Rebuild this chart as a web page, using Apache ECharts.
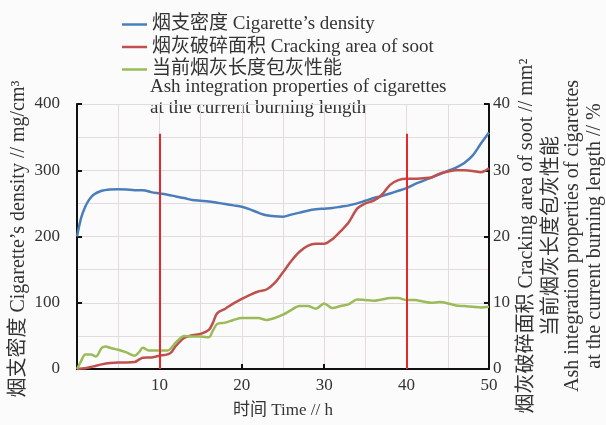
<!DOCTYPE html>
<html>
<head>
<meta charset="utf-8">
<script src="https://cdn.jsdelivr.net/npm/echarts@6/dist/echarts.min.js"></script>
<style>
  html, body { margin: 0; padding: 0; background: #fbfbfb; }
  #chart { width: 606px; height: 425px; }
</style>
</head>
<body>
<div id="chart"></div>
<script>
// Burning time (h) vs. value pairs for each measured curve
const densityData = [
  [0, 200], [0.5, 228], [1, 245], [1.5, 256], [2, 263], [3, 269], [4, 271], [5, 271.5],
  [6, 271], [7, 270], [8, 270], [9, 267], [10, 265], [11, 263], [12, 260.5], [13, 258],
  [14, 255], [15, 254], [16, 253], [17, 251], [18, 249], [19, 247], [20, 245], [21, 241],
  [22, 236], [23, 232], [24, 230.5], [25, 230], [26, 233], [27, 236], [28, 239], [29, 241],
  [30, 242], [31, 243], [32, 245], [33, 247], [34, 250], [35, 254], [36, 258], [37, 261],
  [38, 265], [39, 269], [40, 273], [41, 279], [42, 284], [43, 289], [44, 294], [45, 299],
  [46, 304], [47, 311], [48, 322], [49, 340], [50, 357]
];
const sootAreaData = [
  [0, 0], [1, 0.1], [2, 0.4], [3, 0.7], [4, 0.9], [5, 1.0], [6, 1.0], [7, 1.05], [7.5, 1.4],
  [8, 1.7], [9, 1.75], [10, 2.0], [11, 2.2], [11.5, 2.6], [12, 3.5], [13, 4.7], [14, 5.1],
  [15, 5.3], [16, 5.9], [16.5, 7], [17, 8.4], [18, 9.1], [19, 9.9], [20, 10.6], [21, 11.2],
  [22, 11.7], [23, 12], [24, 13], [25, 14.6], [26, 16.3], [27, 17.7], [28, 18.6], [29, 18.9],
  [30, 18.9], [31, 19.6], [32, 20.8], [33, 22.2], [34, 24.2], [35, 25], [36, 25.4], [37, 26.3],
  [38, 27.8], [39, 28.5], [40, 28.7], [41, 28.7], [42, 28.8], [43, 28.9], [44, 29.5], [45, 29.8],
  [46, 30], [47, 30], [48, 29.9], [49, 29.7], [50, 30.3]
];
const ashData = [
  [0, 0], [0.5, 1.2], [1, 2.2], [1.7, 2.2], [2.3, 1.9], [3, 3.2], [3.5, 3.4], [4, 3.2], [5, 2.9],
  [6, 2.5], [7, 2.0], [7.5, 2.5], [8, 3.2], [8.7, 2.8], [10, 2.8], [11, 2.8], [12, 4], [13, 5],
  [14, 4.9], [15, 4.9], [16, 4.8], [16.5, 5.8], [17, 6.8], [18, 7.0], [19, 7.4], [20, 7.7],
  [21, 7.7], [22, 7.7], [23, 7.4], [24, 7.7], [25, 8.2], [26, 8.9], [27, 9.5], [28, 9.5],
  [29, 9.1], [30, 9.9], [31, 9.2], [32, 9.5], [33, 9.8], [34, 10.5], [35, 10.4], [36, 10.3],
  [37, 10.5], [38, 10.7], [39, 10.7], [40, 10.4], [41, 10.4], [42, 10.2], [43, 10.0], [44, 10.1],
  [45, 9.9], [46, 9.6], [47, 9.5], [48, 9.4], [49, 9.3], [50, 9.4]
];
// Vertical reference markers (time, top value on density axis)
const markerTimes = [10, 40];
const markerTop = 355;

const seriesNames = [
  '烟支密度 Cigarette’s density',
  '烟灰破碎面积 Cracking area of soot',
  '当前烟灰长度包灰性能'
];
const ashNameExtra = ['Ash integration properties of cigarettes', 'at the current burning length'];
const leftAxisName = '烟支密度 Cigarette’s density // mg/cm³';
const rightAxisNames = [
  '烟灰破碎面积 Cracking area of soot // mm²',
  '当前烟灰长度包灰性能',
  'Ash integration properties of cigarettes',
  'at the current burning length // %'
];
const xAxisName = '时间 Time // h';

const FONT = "'Liberation Serif', 'Noto Sans CJK SC', serif";
const chart = echarts.init(document.getElementById('chart'), null, { renderer: 'canvas' });

const gridLine = { show: true, lineStyle: { color: '#e4dcdc', width: 1 } };

chart.setOption({
  backgroundColor: '#fbfbfb',
  animation: false,
  textStyle: { fontFamily: FONT },
  grid: { left: 77, right: 117, top: 104, bottom: 56, containLabel: false },
  legend: {
    orient: 'vertical',
    left: 117,
    top: 10,
    itemWidth: 25,
    itemHeight: 14,
    itemGap: 3.5,
    icon: 'path://M0,6 L25,6 L25,8.5 L0,8.5 Z',
    textStyle: { fontFamily: FONT, fontSize: 19, color: '#333', lineHeight: 19 },
    data: seriesNames
  },
  xAxis: {
    type: 'value',
    min: 0, max: 50, interval: 10,
    name: xAxisName,
    nameLocation: 'middle',
    nameGap: 33,
    nameTextStyle: { fontFamily: FONT, fontSize: 17, color: '#333' },
    axisLine: { show: true, onZero: false, lineStyle: { color: '#111', width: 2 } },
    axisTick: { show: true, inside: true, length: 5, lineStyle: { color: '#111', width: 2 } },
    axisLabel: {
      fontFamily: FONT, fontSize: 17, color: '#333', margin: 8,
      formatter: v => (v === 0 ? '' : String(v))
    },
    splitLine: gridLine,
    minorTick: { show: false, splitNumber: 2 },
    minorSplitLine: gridLine
  },
  yAxis: [
    {
      type: 'value', position: 'left',
      min: 0, max: 400, interval: 100,
      axisLine: { show: true, lineStyle: { color: '#111', width: 2 } },
      axisTick: { show: true, inside: true, length: 5, lineStyle: { color: '#111', width: 2 } },
      axisLabel: { fontFamily: FONT, fontSize: 17, color: '#333', margin: 17 },
      splitLine: gridLine,
      minorTick: { show: false, splitNumber: 2 },
      minorSplitLine: gridLine
    },
    {
      type: 'value', position: 'right',
      min: 0, max: 40, interval: 10,
      axisLine: { show: true, lineStyle: { color: '#111', width: 2 } },
      axisTick: { show: true, inside: true, length: 5, lineStyle: { color: '#111', width: 2 } },
      axisLabel: { fontFamily: FONT, fontSize: 17, color: '#333', margin: 4 },
      splitLine: { show: false }
    }
  ],
  series: [
    {
      name: seriesNames[0], type: 'line', yAxisIndex: 0, data: densityData,
      smooth: 0.3, symbol: 'none',
      lineStyle: { color: '#4a7ebb', width: 2.5 }, itemStyle: { color: '#4a7ebb' },
      markLine: {
        silent: true, symbol: ['none', 'none'], label: { show: false },
        lineStyle: { color: '#e8262e', width: 2, type: 'solid' },
        data: markerTimes.map(t => [{ coord: [t, 0] }, { coord: [t, markerTop] }])
      },
      z: 3
    },
    {
      name: seriesNames[1], type: 'line', yAxisIndex: 1, data: sootAreaData,
      smooth: 0.3, symbol: 'none',
      lineStyle: { color: '#c0504d', width: 2.5 }, itemStyle: { color: '#c0504d' },
      z: 3
    },
    {
      name: seriesNames[2], type: 'line', yAxisIndex: 1, data: ashData,
      smooth: 0.3, symbol: 'none',
      lineStyle: { color: '#9bbb59', width: 2.5 }, itemStyle: { color: '#9bbb59' },
      z: 3
    }
  ],
  graphic: [
    // continuation lines of the third legend entry
    { type: 'text', left: 150, top: 78, style: { text: ashNameExtra[0], font: '19px ' + FONT, fill: '#333' } },
    { type: 'text', left: 150, top: 99, style: { text: ashNameExtra[1], font: '19px ' + FONT, fill: '#333' } },
    // left axis title
    {
      type: 'text', x: 19, y: 239, rotation: Math.PI / 2,
      style: { text: leftAxisName, font: '20px ' + FONT, fill: '#333', align: 'center', verticalAlign: 'middle' }
    },
    // right axis titles
    ...[527, 552, 573, 595].map((x, i) => ({
      type: 'text', x: x, y: 236, rotation: Math.PI / 2,
      style: { text: rightAxisNames[i], font: '20px ' + FONT, fill: '#333', align: 'center', verticalAlign: 'middle' }
    }))
  ]
});
</script>
</body>
</html>
